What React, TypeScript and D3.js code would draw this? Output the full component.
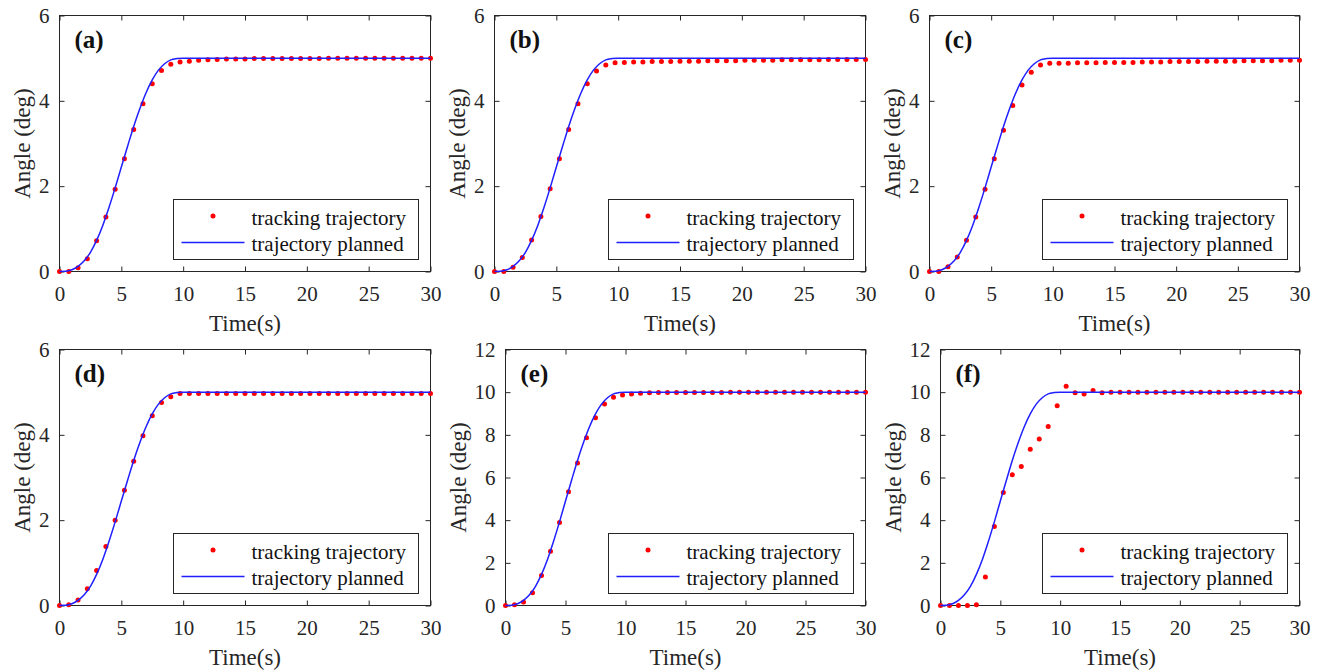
import React, { useEffect, useRef } from 'react';
import * as d3 from 'd3';

// tracking samples every 0.75 s, 0..30 s (41 points)
const sampleTimes = d3.range(0, 30.001, 0.75);

// planned trajectory
const plannedTimes = [0, 0.5, 1, 1.5, 2, 2.5, 3, 3.5, 4, 4.5, 5, 5.5, 6, 6.5, 7, 7.5, 8, 8.5, 9, 9.5, 10, 30];
const plannedSmall = [0, 0.005, 0.04, 0.12, 0.25, 0.45, 0.73, 1.08, 1.5, 1.96, 2.45, 2.93, 3.4, 3.82, 4.19, 4.49, 4.72, 4.87, 4.96, 4.99, 5, 5];
const plannedLarge = [0, 0.01, 0.08, 0.24, 0.5, 0.9, 1.46, 2.16, 3.0, 3.92, 4.9, 5.86, 6.8, 7.64, 8.38, 8.98, 9.44, 9.74, 9.92, 9.98, 10, 10];

const trackA = [0, 0, 0.09, 0.3, 0.72, 1.28, 1.93, 2.64, 3.33, 3.93, 4.4, 4.71, 4.86, 4.91, 4.93, 4.95, 4.96, 4.97,
  4.98, 4.98, 4.98, 4.99, 4.99, 4.99, 4.99, 4.99, 4.99, 4.99, 4.99, 5, 5, 5, 5, 5, 5, 5, 5, 5, 5, 5, 5];
const trackB = [0, 0, 0.1, 0.33, 0.74, 1.29, 1.94, 2.64, 3.33, 3.93, 4.4, 4.7, 4.84, 4.89,
  4.9, 4.91, 4.91, 4.92, 4.92, 4.92, 4.93, 4.93, 4.93, 4.94, 4.94, 4.94, 4.94, 4.95, 4.95, 4.95, 4.95,
  4.96, 4.96, 4.96, 4.96, 4.96, 4.97, 4.97, 4.97, 4.97, 4.97];
const trackC = [0, 0, 0.11, 0.34, 0.73, 1.28, 1.93, 2.64, 3.31, 3.89, 4.37, 4.67, 4.84, 4.88,
  4.88, 4.88, 4.89, 4.89, 4.89, 4.9, 4.9, 4.9, 4.9, 4.91, 4.91, 4.91, 4.92, 4.92, 4.92, 4.92,
  4.93, 4.93, 4.93, 4.93, 4.94, 4.94, 4.94, 4.94, 4.95, 4.95, 4.95];
const trackD = [0, 0.02, 0.13, 0.39, 0.82, 1.38, 2.0, 2.7, 3.38, 3.98, 4.45, 4.76, 4.89, 4.97,
  4.97, 4.97, 4.97, 4.97, 4.97, 4.97, 4.97, 4.97, 4.97, 4.97, 4.97, 4.97, 4.97, 4.97, 4.97, 4.97,
  4.97, 4.97, 4.97, 4.97, 4.97, 4.97, 4.97, 4.97, 4.97, 4.97, 4.97];
const trackE = [0, 0.03, 0.16, 0.6, 1.41, 2.54, 3.89, 5.33, 6.68, 7.86, 8.8, 9.44, 9.76, 9.87,
  9.91, 9.95, 9.97, 9.98, 9.98, 9.99, 9.99, 9.99, 9.99, 9.99, 9.99, 10, 10, 10, 10, 10,
  10, 10, 10, 10, 10, 10, 10, 10, 10, 10, 10];
const trackF = [0, 0, 0, 0, 0.03, 1.34, 3.7, 5.3, 6.13, 6.52, 7.33, 7.81, 8.39, 9.36, 10.28, 9.97, 9.91, 10.08, 9.97,
  10, 10, 10, 10, 10, 10, 10, 10, 10, 10, 10, 10, 10, 10, 10, 10, 10, 10, 10, 10, 10, 10];

const panelLabels = ['(a)', '(b)', '(c)', '(d)', '(e)', '(f)'];
const trackingSeries = [trackA, trackB, trackC, trackD, trackE, trackF];
const plannedSeries = [plannedSmall, plannedSmall, plannedSmall, plannedSmall, plannedLarge, plannedLarge];
const yMaxes = [6, 6, 6, 6, 12, 12];
const xTickValues = [0, 5, 10, 15, 20, 25, 30];
const legendNames = ['tracking trajectory', 'trajectory planned'];

// plot boxes: left, top, right, bottom
const boxes = [
  [59.5, 15.5, 430.5, 271.5],
  [494.5, 15.5, 865.5, 271.5],
  [929.5, 15.5, 1299.5, 271.5],
  [59.5, 349.5, 430.5, 605.5],
  [505.5, 349.5, 865.5, 605.5],
  [940.5, 349.5, 1299.5, 605.5],
];

const FONT = '"Liberation Serif", "Times New Roman", serif';
const INK = '#262626';

export default function App() {
  const ref = useRef<SVGSVGElement>(null);

  useEffect(() => {
    const svg = d3.select(ref.current);
    svg.selectAll('*').remove();

    boxes.forEach((b, i) => {
      const [l, t, r, bt] = b;
      const yMax = yMaxes[i];
      const yTicks = d3.range(0, yMax + 0.001, 2);
      const x = d3.scaleLinear().domain([0, 30]).range([l, r]);
      const y = d3.scaleLinear().domain([0, yMax]).range([bt, t]);
      const g = svg.append('g');

      g.append('rect')
        .attr('x', l).attr('y', t)
        .attr('width', r - l).attr('height', bt - t)
        .attr('fill', '#fff')
        .attr('stroke', INK).attr('stroke-width', 1);

      // axes with inward ticks
      const bottom = g.append('g').attr('transform', `translate(0,${bt})`)
        .call(d3.axisBottom(x).tickValues(xTickValues).tickSize(-5).tickSizeOuter(0).tickPadding(15));
      const left = g.append('g').attr('transform', `translate(${l},0)`)
        .call(d3.axisLeft(y).tickValues(yTicks).tickFormat(d3.format('d')).tickSize(-5).tickSizeOuter(0).tickPadding(10));
      const top = g.append('g').attr('transform', `translate(0,${t})`)
        .call(d3.axisTop(x).tickValues(xTickValues).tickSize(-5).tickSizeOuter(0).tickFormat(() => ''));
      const right = g.append('g').attr('transform', `translate(${r},0)`)
        .call(d3.axisRight(y).tickValues(yTicks).tickSize(-5).tickSizeOuter(0).tickFormat(() => ''));
      [bottom, left, top, right].forEach(a => {
        a.select('.domain').remove();
        a.selectAll('line').attr('stroke', INK);
        a.selectAll('text')
          .attr('fill', INK)
          .style('font-family', FONT)
          .style('font-size', '21px');
      });

      // tracking dots
      g.append('g').selectAll('circle')
        .data(trackingSeries[i])
        .enter()
        .append('circle')
        .attr('cx', (d, k) => x(sampleTimes[k]))
        .attr('cy', d => y(d))
        .attr('r', 2.5)
        .attr('fill', '#ff0000');

      // planned line
      const line = d3.line<number>()
        .x((d, k) => x(plannedTimes[k]))
        .y(d => y(d))
        .curve(d3.curveMonotoneX);
      g.append('path')
        .attr('d', line(plannedSeries[i]))
        .attr('fill', 'none')
        .attr('stroke', '#1f1fff')
        .attr('stroke-width', 1.5);

      // panel letter
      g.append('text')
        .attr('x', l + 15).attr('y', t + 32)
        .style('font-family', FONT).style('font-size', '25px').style('font-weight', 'bold')
        .attr('fill', '#111')
        .text(panelLabels[i]);

      // axis labels
      g.append('text')
        .attr('x', (l + r) / 2).attr('y', bt + 59)
        .attr('text-anchor', 'middle')
        .style('font-family', FONT).style('font-size', '23px')
        .attr('fill', INK)
        .text('Time(s)');
      const yl = l - (yMax >= 10 ? 40 : 30);
      g.append('text')
        .attr('transform', `translate(${yl},${(t + bt) / 2}) rotate(-90)`)
        .attr('text-anchor', 'middle')
        .style('font-family', FONT).style('font-size', '23px')
        .attr('fill', INK)
        .text('Angle (deg)');

      // legend
      const lw = 245, lh = 60;
      const lx = Math.round(r - 13 - lw) + 0.5, ly = Math.round(bt - 13 - lh) + 0.5;
      const lg = g.append('g').attr('transform', `translate(${lx},${ly})`);
      lg.append('rect')
        .attr('width', lw).attr('height', lh)
        .attr('fill', '#fff').attr('stroke', INK).attr('stroke-width', 1);
      lg.append('circle').attr('cx', 39.5).attr('cy', 16.5).attr('r', 2.5).attr('fill', '#ff0000');
      lg.append('line')
        .attr('x1', 8).attr('x2', 71).attr('y1', 43).attr('y2', 43)
        .attr('stroke', '#1f1fff').attr('stroke-width', 1.5);
      lg.selectAll('text.item')
        .data(legendNames)
        .enter()
        .append('text')
        .attr('class', 'item')
        .attr('x', 78)
        .attr('y', (d, k) => (k === 0 ? 25 : 51.5))
        .style('font-family', FONT).style('font-size', '21px')
        .attr('fill', '#111')
        .text(d => d);
    });
  }, []);

  return (
    <svg ref={ref} width={1320} height={671}
      style={{ position: 'absolute', left: 0, top: 0, background: '#fff' }} />
  );
}
